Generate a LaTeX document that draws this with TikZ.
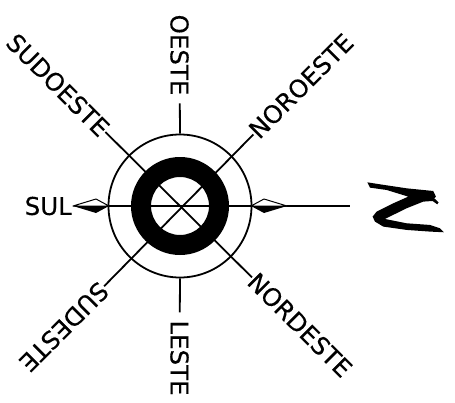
\documentclass[tikz,border=0pt]{standalone}
\usepackage{fontspec}
\newfontfamily\rumofont{DejaVu Sans}[FakeBold=0.3]
\tikzset{
  rumo/.style={inner sep=0pt, font=\rumofont\fontsize{24.5}{25}\selectfont},
  linha/.style={line width=1.8pt},
  ponta/.style={draw, line width=1pt, fill=white, line join=round},
}
\begin{document}
\begin{tikzpicture}[x=1pt, y=1pt]
    \useasboundingbox (-180,-196) rectangle (275,206);
    \node[circle, draw, line width=1.8pt, minimum size=143pt, inner sep=0pt] (aro) at (0,0) {};
    \node[rumo, rotate=-90, outer sep=8pt] (oeste) at (-0.5,151) {OESTE};
    \node[rumo, rotate=-90, outer sep=8pt] (leste) at (-0.5,-152) {LESTE};
    \node[rumo, anchor=east] (sul) at (-108,0) {SUL};
    \node[rumo, rotate=45] (noroeste) at (121,120) {NOROESTE};
    \node[rumo, rotate=-45] (sudoeste) at (-122,121) {SUDOESTE};
    \node[rumo, rotate=-45] (nordeste) at (120,-119) {NORDESTE};
    \node[rumo, rotate=-135] (sudeste) at (-116,-121) {SUDESTE};
    \coordinate (fim) at (170,0);
    \draw[linha] (oeste) -- (aro.north);
    \draw[linha] (leste) -- (aro.south);
    \draw[linha] (aro.west) -- (fim);
    \draw[linha] (noroeste) -- (sudeste);
    \draw[linha] (sudoeste) -- (nordeste);
    \fill[even odd rule] (0,0) circle (49pt) (0,0) circle (29pt);
    % pontas
    \draw[ponta] (-71,0) -- (-84,7) -- (-107,0) -- cycle;
    \fill (-71,0) -- (-84,-7) -- (-107,0) -- cycle;
    \draw[ponta] (71,0) -- (84,7) -- (107,0) -- cycle;
    \fill (71,0) -- (84,-7) -- (107,0) -- cycle;
    % letra N
    \fill[xshift=160pt, yshift=41pt, x=0.333pt, y=-0.333pt]
      (82,52) -- (120,58) -- (200,70) -- (260,76) -- (280,78) -- (288,95) -- (283,100)
      -- (296,112) -- (292,118) -- (278,108) -- (250,110) -- (200,130) -- (135,162)
      -- (200,175) -- (270,180) -- (300,190) -- (312,202) -- (270,200) -- (200,195)
      -- (130,185) -- (105,170) -- (98,155) -- (110,140) -- (160,115) -- (205,95)
      -- (140,75) -- (90,68) -- cycle;
  \end{tikzpicture}
\end{document}
